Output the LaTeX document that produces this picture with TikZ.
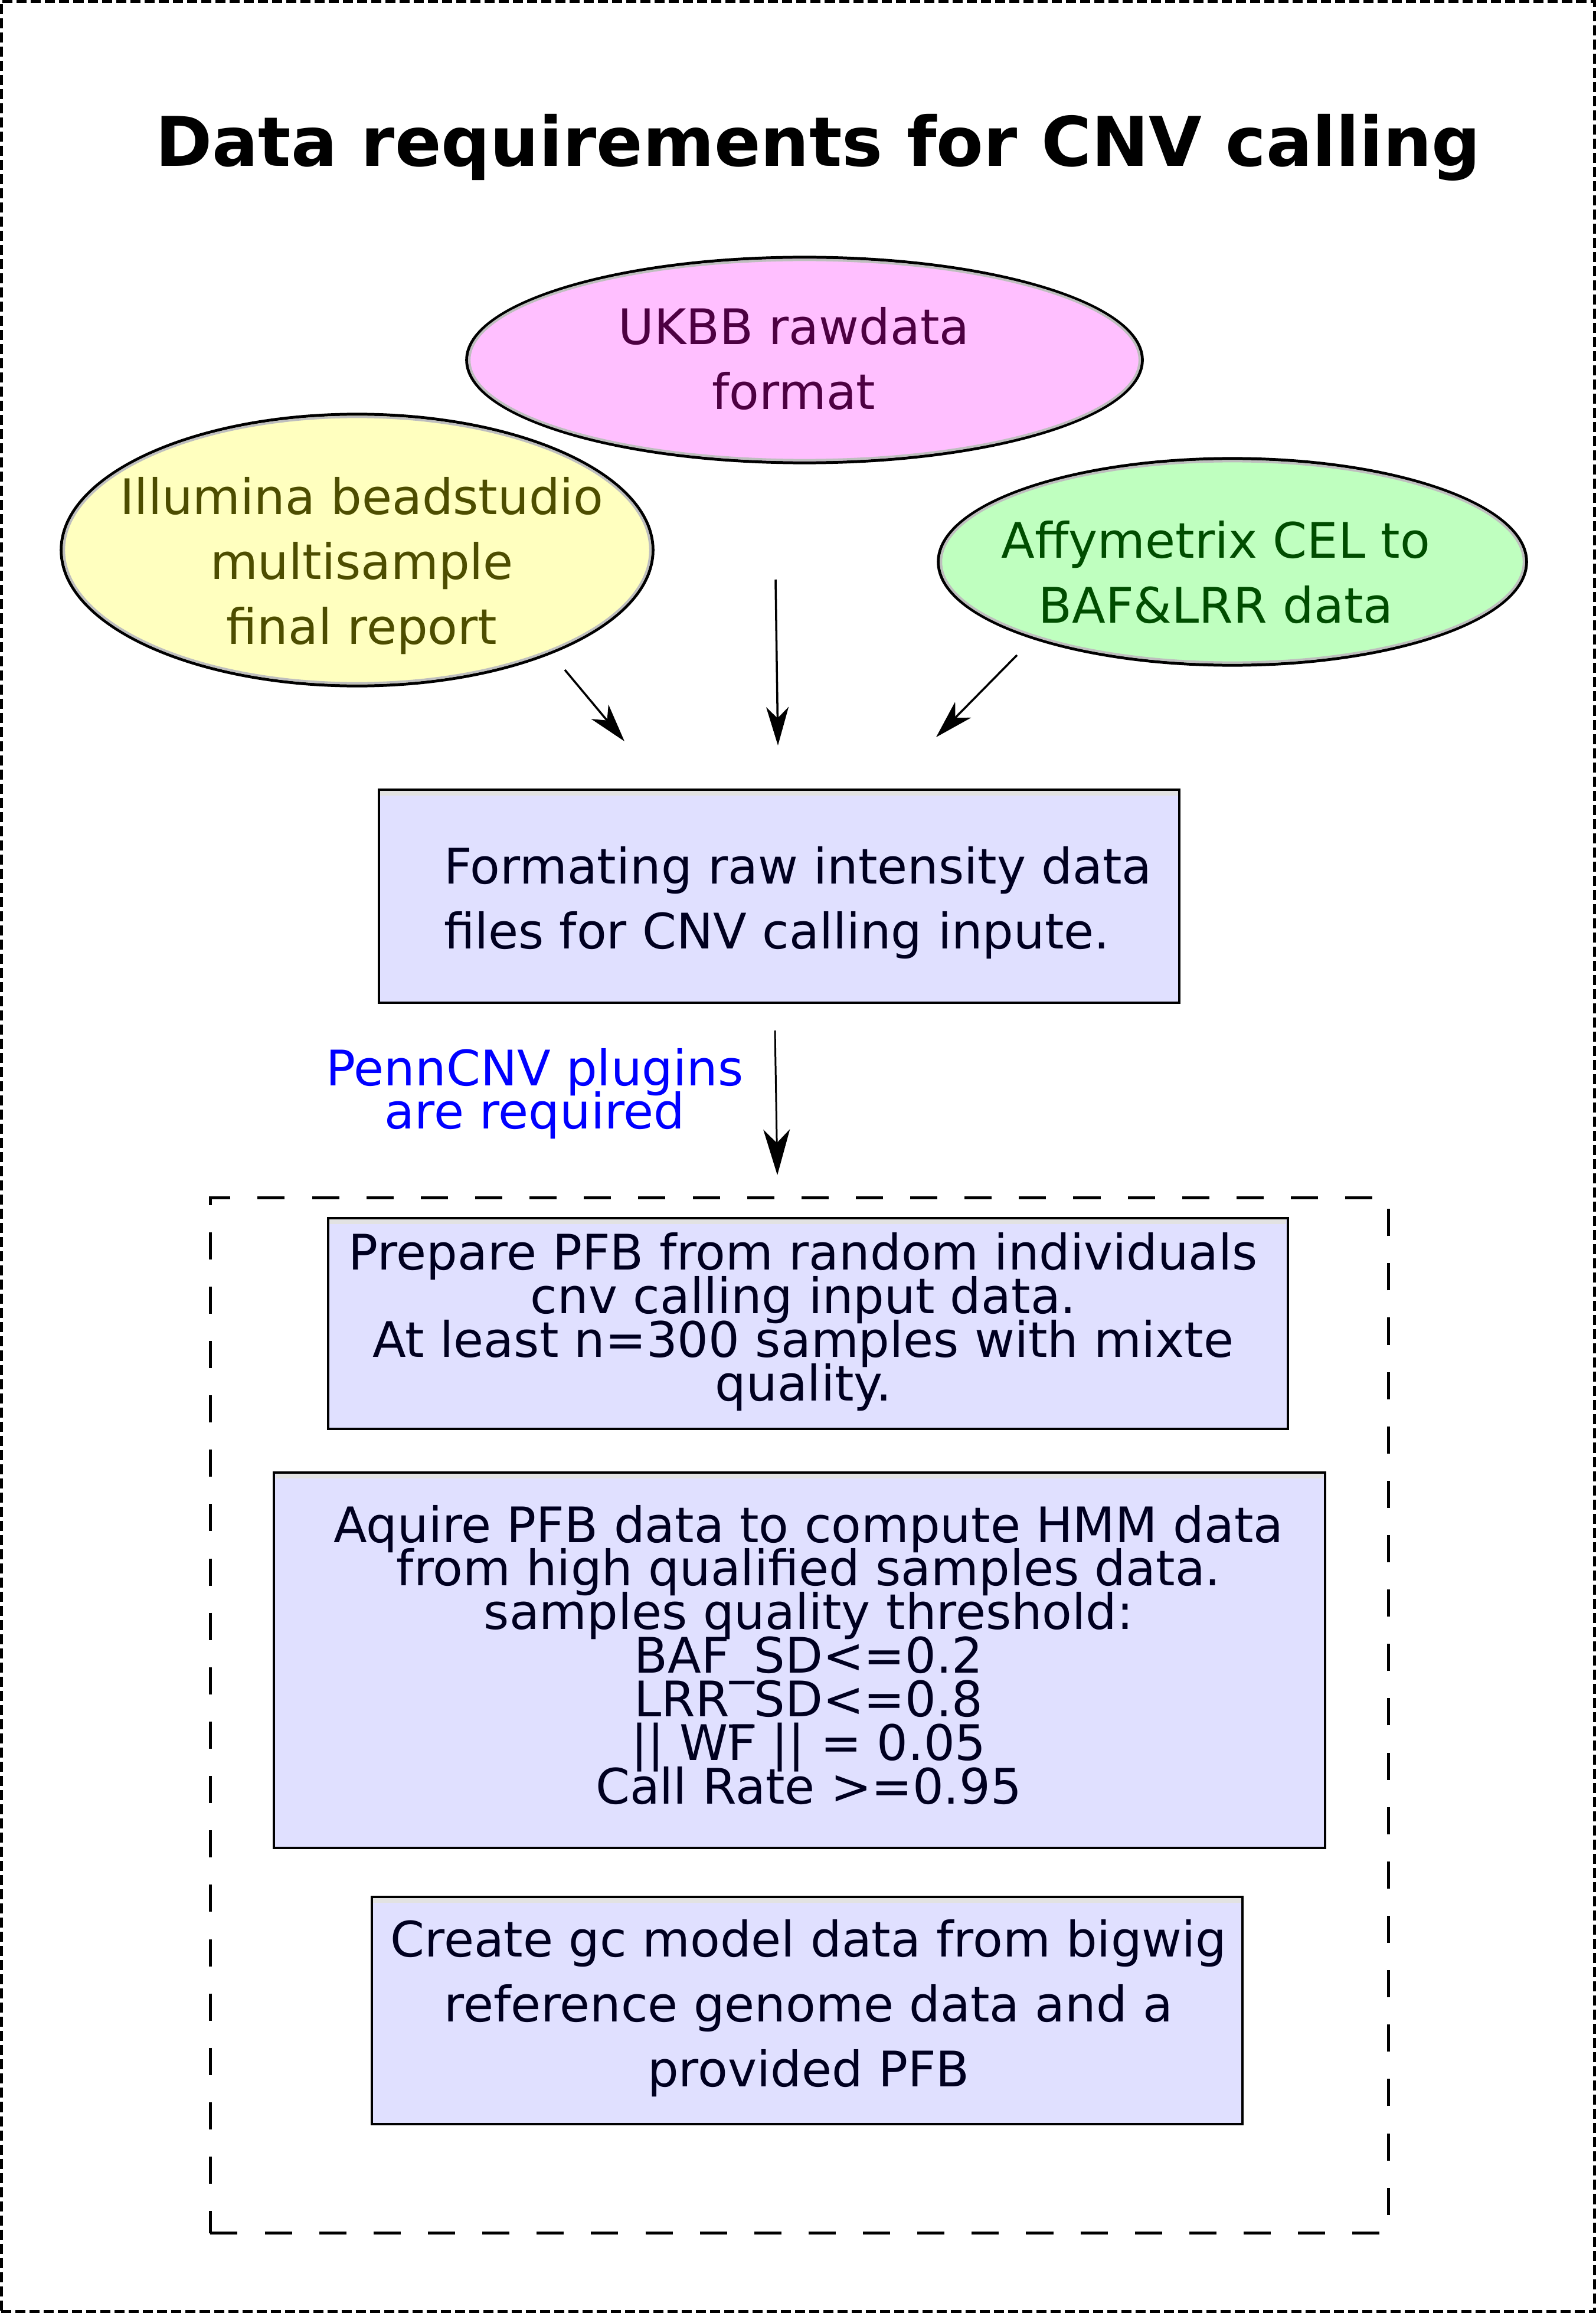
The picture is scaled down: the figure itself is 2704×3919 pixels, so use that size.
\documentclass[tikz,border=0pt]{standalone}
\usepackage{fontspec}
\setmainfont{DejaVu Sans}
\usetikzlibrary{shapes.geometric,arrows.meta,calc}
\definecolor{pinkfill}{RGB}{255,191,255}
\definecolor{pinktext}{RGB}{77,0,66}
\definecolor{yelfill}{RGB}{255,255,191}
\definecolor{yeltext}{RGB}{77,77,0}
\definecolor{grnfill}{RGB}{191,255,191}
\definecolor{grntext}{RGB}{0,77,0}
\definecolor{boxfill}{RGB}{224,224,255}
\definecolor{boxtext}{RGB}{0,0,32}
\definecolor{ringgray}{RGB}{190,190,190}
\definecolor{bandgray}{RGB}{226,226,226}
\definecolor{penblue}{RGB}{0,0,255}
\newcommand{\tstrut}{\rule{0pt}{20pt}}
\newcommand{\loosefont}{\fontsize{23.6pt}{31.4pt}\selectfont\lineskiplimit=-100pt\relax}
\newcommand{\tightfont}{\fontsize{23.6pt}{21pt}\selectfont\lineskiplimit=-100pt\relax}
\begin{document}
\begin{tikzpicture}[x=0.01cm,y=-0.01cm,
  bubble/.style={ellipse,draw=black,line width=1.42pt,inner sep=0pt,outer sep=0pt},
  ring/.style={ringgray,line width=1.14pt},
  stepbox/.style={rectangle,draw=black,line width=1.14pt,fill=boxfill,inner sep=0pt,outer sep=0pt},
  band/.style={fill=bandgray},
  loosetext/.style={inner sep=0pt,outer sep=0pt,align=center,anchor=north,font=\loosefont},
  tighttext/.style={inner sep=0pt,outer sep=0pt,align=center,anchor=north,font=\tightfont},
  arr/.style={line width=1pt,-{Stealth[length=18.5pt,width=10.8pt,inset=5.4pt]}},
  bigarr/.style={line width=0.85pt,-{Stealth[length=22pt,width=12.8pt,inset=6.5pt]}},
]
\useasboundingbox (0,0) rectangle (2704,3919);
\fill[white] (0,0) rectangle (2704,3919);

% outer frame
\node[draw=black,line width=1.71pt,dash pattern=on 4.84pt off 1.99pt,minimum width=26.98cm,minimum height=39.13cm,inner sep=0pt,outer sep=0pt] (frame) at (1352,1959.5) {};

% title
\node[inner sep=0pt,anchor=base,font=\bfseries\fontsize{33pt}{40pt}\selectfont] (title) at (1386,282) {Data requirements for CNV calling};

% ellipses
\node[bubble,fill=pinkfill,minimum width=11.44cm,minimum height=3.48cm] (ukbb) at (1363,610) {};
\draw[ring] (ukbb.center) ellipse [x radius=5.675cm, y radius=1.695cm];
\node[loosetext,text=pinktext] (ukbbtxt) at (1345,512.7) {\tstrut UKBB rawdata\\format};

\node[bubble,fill=yelfill,minimum width=10.02cm,minimum height=4.6cm] (illu) at (605,932) {};
\draw[ring] (illu.center) ellipse [x radius=4.965cm, y radius=2.255cm];
\node[loosetext,text=yeltext] (illutxt) at (613,800.7) {\tstrut Illumina beadstudio\\multisample\\final report};

\node[bubble,fill=grnfill,minimum width=9.96cm,minimum height=3.5cm] (affy) at (2088,952) {};
\draw[ring] (affy.center) ellipse [x radius=4.935cm, y radius=1.705cm];
\node[loosetext,text=grntext] (affytxt) at (2060,874.7) {\tstrut Affymetrix CEL to\\BAF\&LRR data};

% arrows from sources
\coordinate (a1s) at (957,1135);  \coordinate (a1e) at (1058,1256);
\coordinate (a2s) at (1314,982);  \coordinate (a2e) at (1318,1263);
\coordinate (a3s) at (1723,1110); \coordinate (a3e) at (1586,1249);
\draw[arr] (a1s) -- (a1e);
\draw[arr] (a2s) -- (a2e);
\draw[arr] (a3s) -- (a3e);

% formatting box
\node[stepbox,minimum width=13.56cm,minimum height=3.61cm] (fmt) at (1320,1518.5) {};
\fill[band] ($(fmt.north west)+(2.5,2.5)$) rectangle ($(fmt.north east)+(-2.5,10)$);
\node[loosetext,align=left,anchor=north west,text=boxtext] (fmttxt) at (752,1426.7) {\tstrut Formating raw intensity data\\files for CNV calling inpute.};

% PennCNV label and arrow
\node[tighttext,text=penblue] (penn) at (906,1768.7) {\tstrut PennCNV plugins\\are required};
\coordinate (a4s) at (1313,1746); \coordinate (a4e) at (1317,1991);
\draw[bigarr] (a4s) -- (a4e);

% dashed group
\node[draw=black,line width=1.56pt,dash pattern=on 13.1pt off 13.1pt,minimum width=19.95cm,minimum height=17.53cm,inner sep=0pt,outer sep=0pt] (group) at (1354.5,2906.5) {};

% prepare box
\node[stepbox,minimum width=16.25cm,minimum height=3.57cm] (prep) at (1368.5,2242.5) {};
\fill[band] ($(prep.north west)+(2.5,2.5)$) rectangle ($(prep.north east)+(-2.5,10)$);
\node[tighttext,text=boxtext] (preptxt) at (1361,2081.2) {\tstrut Prepare PFB from random individuals\\cnv calling input data.\\At least n=300 samples with mixte\\quality.};

% aquire box
\node[stepbox,minimum width=17.79cm,minimum height=6.36cm] (hmm) at (1354.5,2813) {};
\fill[band] ($(hmm.north west)+(2.5,2.5)$) rectangle ($(hmm.north east)+(-2.5,10)$);
\node[tighttext,text=boxtext] (hmmtxt) at (1370,2542.7) {\tstrut Aquire PFB data to compute HMM data\\from high qualified samples data.\\samples quality threshold:\\BAF\_SD<=0.2\\LRR\_SD<=0.8\\|| WF || = 0.05\\Call Rate >=0.95};

% gc model box
\node[stepbox,minimum width=14.75cm,minimum height=3.85cm] (gc) at (1367.5,3406.5) {};
\fill[band] ($(gc.north west)+(2.5,2.5)$) rectangle ($(gc.north east)+(-2.5,10)$);
\node[loosetext,text=boxtext] (gctxt) at (1370,3244.7) {\tstrut Create gc model data from bigwig\\reference genome data and a\\provided PFB};
\end{tikzpicture}
\end{document}
